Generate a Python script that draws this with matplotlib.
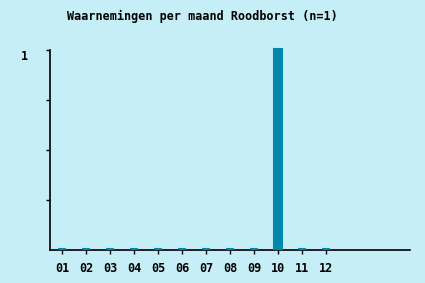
import matplotlib
matplotlib.use("Agg")
import matplotlib.pyplot as plt
import matplotlib.transforms as mtransforms
import numpy as np

months = ["01", "02", "03", "04", "05", "06", "07", "08", "09", "10", "11", "12"]
counts = [0, 0, 0, 0, 0, 0, 0, 0, 0, 1, 0, 0]
title = "Waarnemingen per maand Roodborst (n=1)"

BG = "#c6eef7"
BAR = "#0088aa"
FONT = ["DejaVu Sans Mono"]
FS = 8.5

W, H = 425, 283
fig = plt.figure(figsize=(W / 100, H / 100), dpi=100, facecolor=BG)
ax = fig.add_axes([50 / W, 1 - 250 / H, 360 / W, 200 / H], facecolor=BG)

x = np.arange(1, len(months) + 1)
# lift bars a pixel so the empty months show a small stub above the axis
lift = ax.transData + mtransforms.ScaledTranslation(0, 1.5 / 100, fig.dpi_scale_trans)
bars = ax.bar(x, counts, width=0.31, color=BAR, edgecolor=BAR, linewidth=1.5,
              zorder=3)
for b in bars:
    b.set_transform(lift)
    b.set_clip_on(False)

ax.set_xlim(0.5, 15.5)
ax.set_ylim(0, 1)
ax.set_xticks(x)
ax.set_xticklabels(months, family=FONT, fontweight="bold", fontsize=FS)
ax.set_yticks([0.25, 0.5, 0.75, 1.0])
ax.set_yticklabels(["", "", "", "1"], family=FONT, fontweight="bold", fontsize=FS,
                   va="top")
ax.tick_params(axis="x", length=3, width=1, pad=6, colors="black")
ax.tick_params(axis="y", length=3, width=1, pad=13, colors="black")

for side in ["top", "right"]:
    ax.spines[side].set_visible(False)
for side in ["left", "bottom"]:
    ax.spines[side].set_linewidth(1.2)
    ax.spines[side].set_color("black")
    ax.spines[side].set_zorder(2)

fig.text(202.5 / W, 1 - 16 / H, title, ha="center", va="center",
         family=FONT, fontweight="bold", fontsize=FS)

fig.savefig("out.png", dpi=100, facecolor=BG)
